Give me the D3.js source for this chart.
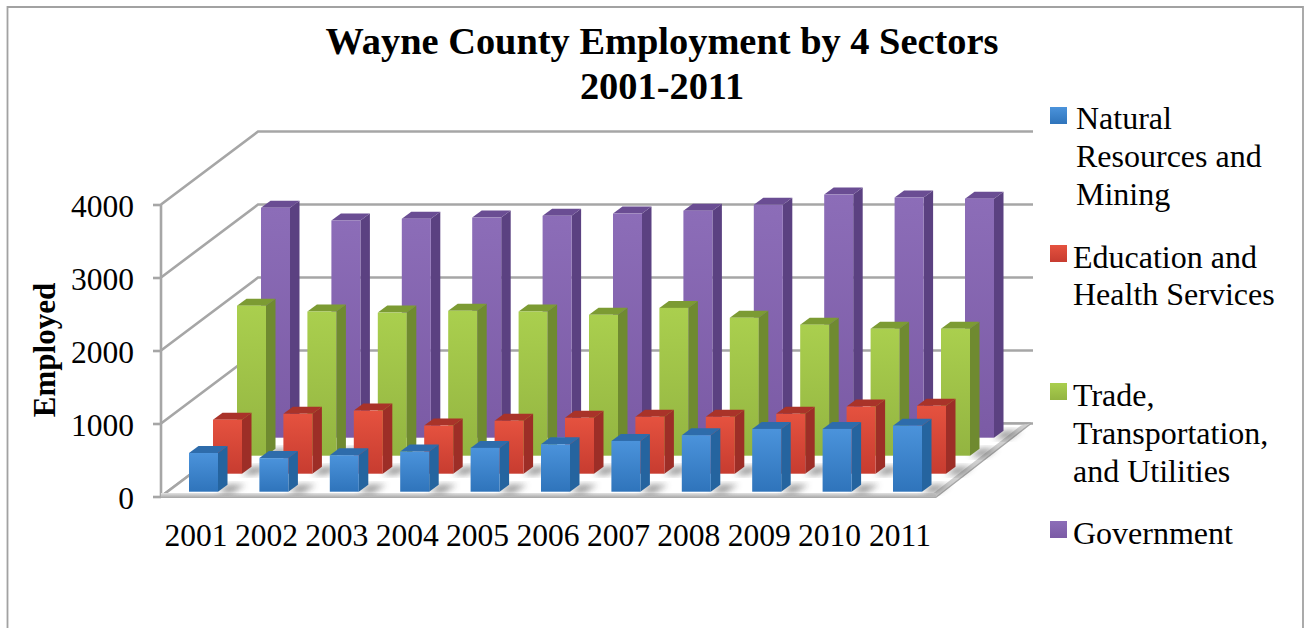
<!DOCTYPE html>
<html>
<head>
<meta charset="utf-8">
<script src="https://cdn.jsdelivr.net/npm/d3@7/dist/d3.min.js"></script>
<style>
html, body { margin: 0; padding: 0; background: #fff; overflow: hidden; }
svg { display: block; }
text { font-family: "Liberation Serif", serif; fill: #000; }
</style>
</head>
<body>
<svg id="chart" width="1304" height="628"></svg>
<script>
// Employment counts per sector, 2001-2011
const years = ["2001","2002","2003","2004","2005","2006","2007","2008","2009","2010","2011"];
const naturalResources = [530,460,500,550,600,650,695,775,860,860,905];
const educationHealth = [740,820,865,660,725,765,780,780,820,920,930];
const tradeTransport = [2055,1975,1960,1985,1975,1930,2025,1890,1795,1740,1740];
const government = [3150,2975,3000,3015,3040,3070,3110,3190,3330,3290,3275];
const yTicks = [0,1000,2000,3000,4000];

const sectorNames = ["natural","education","trade","government"];
const sectorValues = [naturalResources, educationHealth, tradeTransport, government];
const legendLines = [
  ["Natural","Resources and","Mining"],
  ["Education and","Health Services"],
  ["Trade,","Transportation,","and Utilities"],
  ["Government"]
];
const titleLines = ["Wayne County Employment by 4 Sectors","2001-2011"];

// Face colours: front gradient top/bottom, side, cap
const faces = {
  natural:    {hi:"#4b93db", lo:"#2f74bb", side:"#25649f", cap:"#2e6cab"},
  education:  {hi:"#e5523f", lo:"#c73c30", side:"#9d2e27", cap:"#a93329"},
  trade:      {hi:"#aacf4e", lo:"#93b441", side:"#6f8a30", cap:"#7c9b33"},
  government: {hi:"#8c6db8", lo:"#7b5ba5", side:"#5b4181", cap:"#6a4d93"}
};

const svg = d3.select("#chart");
const defs = svg.append("defs");
sectorNames.forEach(n => {
  const g = defs.append("linearGradient").attr("id","front-"+n)
    .attr("x1",0).attr("y1",0).attr("x2",0).attr("y2",1);
  g.append("stop").attr("offset","0%").attr("stop-color",faces[n].hi);
  g.append("stop").attr("offset","100%").attr("stop-color",faces[n].lo);
});
defs.append("filter").attr("id","soft")
  .attr("x","-40%").attr("y","-40%").attr("width","180%").attr("height","180%")
  .append("feGaussianBlur").attr("stdDeviation",3);
const lip = defs.append("linearGradient").attr("id","lip")
  .attr("x1",0).attr("y1",0).attr("x2",0).attr("y2",1);
lip.append("stop").attr("offset","0%").attr("stop-color","#e2e2e2");
lip.append("stop").attr("offset","100%").attr("stop-color","#a4a4a4");

// Oblique projection: value height on the front plane, plus a depth shift
const frontLeft = 161, frontBase = 496.5;
const depthX = 97, depthY = 73, floorWidth = 775;
const y = d3.scaleLinear().domain([0,4000]).range([frontBase, frontBase-292]);
const x = d3.scaleBand().domain(years).range([189,922]).paddingInner(0.588).paddingOuter(0);
const depth = d3.scalePoint().domain(sectorNames).range([0,1]);
const seriesDX = 72, seriesDY = 54;
const blueBase = 491.7;
const sideDX = 9.5, sideDY = 7;
const grid = "#a6a6a6";

// Outer frame (open along the bottom edge)
svg.append("path").attr("fill","none").attr("stroke","#a2a2a2").attr("stroke-width",1.8)
  .attr("d","M7.5,628V7H1303V628");

// Walls: gridlines along the left wall and across the back
const walls = svg.append("g").attr("fill","none").attr("stroke",grid).attr("stroke-width",2.6);
yTicks.forEach(t => {
  const p = d3.path();
  p.moveTo(frontLeft, y(t));
  p.lineTo(frontLeft+depthX, y(t)-depthY);
  p.lineTo(1033, y(t)-depthY);
  walls.append("path").attr("d",p.toString());
});
walls.append("line").attr("x1",frontLeft).attr("x2",frontLeft).attr("y1",y(4000)).attr("y2",y(0));

// Floor with its raised front lip
const fl = [[frontLeft,frontBase],[frontLeft+floorWidth,frontBase],
            [frontLeft+floorWidth+depthX-3,frontBase-depthY],[frontLeft+depthX,frontBase-depthY]];
svg.append("polygon").attr("points",fl.join(" ")).attr("fill","#fff")
  .attr("stroke",grid).attr("stroke-width",2.6).attr("stroke-linejoin","round");
svg.append("polygon")
  .attr("points",[[frontLeft+floorWidth-3,frontBase-3],[frontLeft+floorWidth+depthX-12,frontBase-depthY+2],
                  [frontLeft+floorWidth+depthX-3,frontBase-depthY],[frontLeft+floorWidth,frontBase]].join(" "))
  .attr("fill","#cfcfcf");
svg.append("rect").attr("x",frontLeft).attr("y",frontBase-3.5).attr("width",floorWidth)
  .attr("height",5).attr("fill","url(#lip)");

// Bars, drawn from the back row to the front so nearer rows overlap
const W = x.bandwidth();
[...sectorNames].reverse().forEach(name => {
  const i = sectorNames.indexOf(name);
  const values = sectorValues[i];
  const dx = depth(name)*seriesDX, base = blueBase - depth(name)*seriesDY;
  const h = v => y(0) - y(v);
  const row = svg.append("g").attr("class","row-"+name);

  // soft contact shadow cast on the floor
  row.selectAll("polygon.shadow").data(years).join("polygon").attr("class","shadow")
    .attr("points", yr => {
      const l = x(yr)+dx+W;
      return [[l,base+1],[l+sideDX,base-sideDY],[l+sideDX+18,base-sideDY],[l+14,base+1]].join(" ");
    })
    .attr("fill","#444").attr("opacity",0.55).attr("filter","url(#soft)");

  const bars = row.selectAll("g.bar").data(years.map((yr,k)=>({yr,v:values[k]}))).join("g").attr("class","bar");
  bars.append("polygon").attr("points", d => {
    const l = x(d.yr)+dx+W, t = base-h(d.v);
    return [[l,t],[l+sideDX,t-sideDY],[l+sideDX,base-sideDY],[l,base]].join(" ");
  }).attr("fill",faces[name].side);
  bars.append("polygon").attr("points", d => {
    const l = x(d.yr)+dx, t = base-h(d.v);
    return [[l,t],[l+sideDX,t-sideDY],[l+W+sideDX,t-sideDY],[l+W,t]].join(" ");
  }).attr("fill",faces[name].cap);
  bars.append("rect")
    .attr("x", d => x(d.yr)+dx)
    .attr("y", d => base-h(d.v))
    .attr("width", W)
    .attr("height", d => h(d.v))
    .attr("fill","url(#front-"+name+")");
});

// Value axis
const yAxis = d3.axisLeft(y).tickValues(yTicks).tickSize(8).tickPadding(19).tickFormat(d3.format("d"));
const gy = svg.append("g").attr("transform",`translate(${frontLeft},0)`).call(yAxis);
gy.select(".domain").remove();
gy.selectAll("line").attr("stroke",grid).attr("stroke-width",2.6);
gy.selectAll("text").attr("font-size",31.5).attr("dy","0.39em")
  .style("font-family",'"Liberation Serif", serif').attr("fill","#000");

// Year axis, labels only
const xAxis = d3.axisBottom(x).tickSize(0).tickPadding(0);
const gx = svg.append("g").attr("transform","translate(-7.5,546)").call(xAxis);
gx.select(".domain").remove();
gx.selectAll("text").attr("font-size",31.5).attr("y",0).attr("dy",0).attr("text-anchor","middle")
  .style("font-family",'"Liberation Serif", serif').attr("fill","#000");

// Titles
svg.append("g").selectAll("text").data(titleLines).join("text")
  .attr("x",662).attr("y",(d,i)=>54+i*45)
  .attr("text-anchor","middle").attr("font-size",38.4).attr("font-weight","bold").text(d=>d);
svg.append("text").attr("transform","translate(54.5,350) rotate(-90)")
  .attr("text-anchor","middle").attr("font-size",31).attr("font-weight","bold").text("Employed");

// Legend
const swatchX = 1050, swatchSize = 17;
const swatchTop = [107,245,383,521];
const legendTextX = [1076,1073,1073,1073];
const legendBaselines = [[129,167,205],[268,305],[406,444,482],[544]];
const legend = svg.append("g");
sectorNames.forEach((n,i) => {
  legend.append("rect").attr("x",swatchX).attr("y",swatchTop[i])
    .attr("width",swatchSize).attr("height",swatchSize).attr("fill","url(#front-"+n+")");
  legendLines[i].forEach((line,j) => {
    legend.append("text").attr("x",legendTextX[i]).attr("y",legendBaselines[i][j])
      .attr("font-size",32).text(line);
  });
});
</script>
</body>
</html>
